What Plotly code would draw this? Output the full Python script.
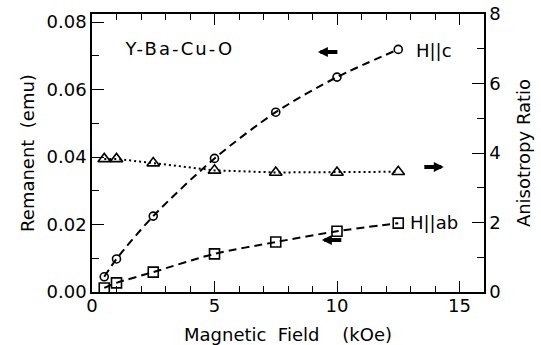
import plotly.graph_objects as go

# Remanent moment and anisotropy ratio of Y-Ba-Cu-O versus applied field
field = [0.5, 1.0, 2.5, 5.0, 7.5, 10.0, 12.5]          # kOe
remanent_c = [0.0045, 0.0098, 0.0225, 0.0396, 0.0533, 0.0637, 0.0719]   # emu, H || c
remanent_ab = [0.0012, 0.0027, 0.0059, 0.0113, 0.0148, 0.0180, 0.0204]  # emu, H || ab
aniso_ratio = [3.83, 3.83, 3.71, 3.50, 3.44, 3.44, 3.46]

x_ticks = [0, 5, 10, 15]
y_ticks = [0.00, 0.02, 0.04, 0.06, 0.08]
y_tick_text = ["0.00", "0.02", "0.04", "0.06", "0.08"]
y2_ticks = [0, 2, 4, 6, 8]

FONT = "DejaVu Sans"
INK = "black"

fig = go.Figure()

fig.add_trace(go.Scatter(
    x=field, y=remanent_c, mode="lines+markers", name="H||c",
    line=dict(color=INK, width=2, dash="8px,5px", shape="spline", smoothing=0.8),
    marker=dict(symbol="circle-open", size=8, color=INK, line=dict(width=1.6, color=INK)),
))
fig.add_trace(go.Scatter(
    x=field, y=remanent_ab, mode="lines+markers", name="H||ab",
    line=dict(color=INK, width=2, dash="8px,5px", shape="spline", smoothing=0.8),
    marker=dict(symbol="square-open", size=10, color=INK, line=dict(width=1.6, color=INK)),
))
# ratio series lives on the top/right axis pair
fig.add_trace(go.Scatter(
    x=field, y=aniso_ratio, mode="lines+markers", name="ratio", xaxis="x2", yaxis="y2",
    line=dict(color=INK, width=2, dash="2px,3px"),
    marker=dict(symbol="triangle-up-open", size=11, color=INK, line=dict(width=1.6, color=INK)),
))

tick_font = dict(family=FONT, size=18, color=INK)
title_font = dict(family=FONT, size=18, color=INK)
minor_x = dict(dtick=1, ticks="inside", ticklen=6, tickwidth=1.2, tickcolor=INK, showgrid=False)

fig.update_layout(
    template="none",
    width=541, height=345,
    margin=dict(l=92, r=57, t=14, b=53, pad=0),
    paper_bgcolor="white", plot_bgcolor="white",
    showlegend=False,
    font=dict(family=FONT, size=18, color=INK),
    xaxis=dict(
        range=[0, 16], tickvals=x_ticks, ticks="inside", ticklen=11, tickwidth=1.3,
        tickcolor=INK, showline=True, linecolor=INK, linewidth=1.5,
        showgrid=False, zeroline=False, tickfont=tick_font, automargin=False,
        ticklabelstandoff=-3, minor=minor_x,
        title=dict(text="Magnetic\u00a0\u00a0Field\u00a0\u00a0\u00a0\u00a0(kOe)", font=title_font, standoff=14),
    ),
    # top axis: ticks only, mirrors the field scale
    xaxis2=dict(
        matches="x", overlaying="x", anchor="y2", side="top", range=[0, 16], tickvals=x_ticks,
        ticks="inside", ticklen=11, tickwidth=1.3, tickcolor=INK, showline=True, linecolor=INK,
        linewidth=1.5, showticklabels=False, showgrid=False, zeroline=False, automargin=False,
        minor=minor_x,
    ),
    yaxis=dict(
        range=[0, 0.0824], tickvals=y_ticks, ticktext=y_tick_text, ticks="inside", ticklen=12,
        tickwidth=1.3, tickcolor=INK, showline=True, linecolor=INK, linewidth=1.5,
        showgrid=False, zeroline=False, tickfont=tick_font, automargin=False,
        minor=dict(dtick=0.01, ticks="inside", ticklen=7, tickwidth=1.2, tickcolor=INK, showgrid=False),
        title=dict(text="Remanent\u00a0\u00a0(emu)", font=title_font, standoff=7),
    ),
    yaxis2=dict(
        range=[0, 8], tickvals=y2_ticks, overlaying="y", anchor="x2", side="right", ticks="inside",
        ticklen=12, tickwidth=1.3, tickcolor=INK, showline=True, linecolor=INK, linewidth=1.5,
        showgrid=False, zeroline=False, tickfont=tick_font, automargin=False,
        minor=dict(dtick=1, ticks="inside", ticklen=7, tickwidth=1.2, tickcolor=INK, showgrid=False),
        title=dict(text="Anisotropy Ratio", font=title_font, standoff=18),
    ),
)

# Labels inside the plot
fig.add_annotation(x=3.57, y=0.0723, xref="x", yref="y", text="Y-Ba-Cu-O",
                   showarrow=False, font=dict(family=FONT, size=18, color=INK))
fig.add_annotation(x=13.15, y=0.0717, xref="x", yref="y", text="H||c", xanchor="left",
                   showarrow=False, font=dict(family=FONT, size=18, color=INK))
fig.add_annotation(x=12.9, y=0.0207, xref="x", yref="y", text="H||ab", xanchor="left",
                   showarrow=False, font=dict(family=FONT, size=18, color=INK))

# Arrows pointing each curve to its axis
arrow_style = dict(showarrow=True, text="", arrowhead=2, arrowsize=0.5, arrowwidth=4,
                   arrowcolor=INK, standoff=0, ay=0)
fig.add_annotation(x=9.22, y=0.0711, xref="x", yref="y", ax=21, **arrow_style)
fig.add_annotation(x=9.38, y=0.0154, xref="x", yref="y", ax=21, **arrow_style)
fig.add_annotation(x=14.36, y=3.6, xref="x", yref="y2", ax=-21, **arrow_style)

# Wider letter spacing for the compound label
post = """
var gd = document.getElementById('{plot_id}');
function spaceLabel() {
  gd.querySelectorAll('.annotation-text').forEach(function (el) {
    if (el.textContent === 'Y-Ba-Cu-O') { el.setAttribute('letter-spacing', '2.1px'); }
  });
}
spaceLabel();
gd.on('plotly_afterplot', spaceLabel);
"""

fig.write_html("out.html", post_script=post)
